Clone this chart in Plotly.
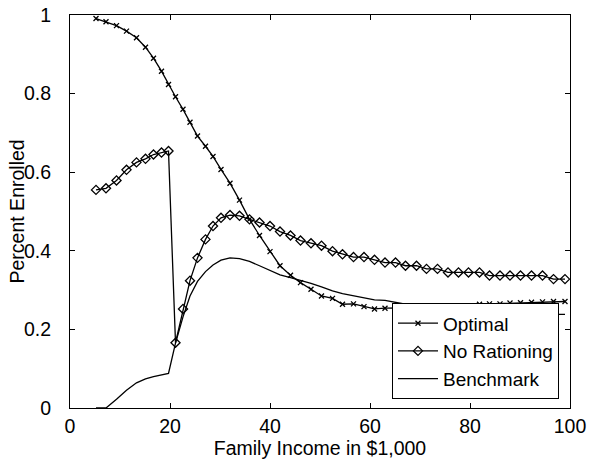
import plotly.graph_objects as go

# Family income grid (in $1,000)
income = [5.2, 7.2, 9.3, 11.3, 13.3, 15.1, 16.7, 18.3, 19.7,
          21.1, 22.6, 24.0, 25.5, 27.1, 28.6, 30.2, 32.0, 33.9,
          35.9, 37.9, 40.0, 42.0, 44.1, 46.1,
          48.2, 50.3, 52.5, 54.5, 56.7, 58.8, 60.9, 63.0, 65.1, 67.1,
          69.3, 71.3, 73.5, 75.6, 77.7, 79.7, 81.9, 83.9, 86.0, 88.0,
          90.1, 92.3, 94.5, 96.7, 99.0]

optimal = [0.991, 0.983, 0.973, 0.959, 0.942, 0.918, 0.890, 0.857, 0.823,
           0.792, 0.760, 0.727, 0.692, 0.666, 0.640, 0.607, 0.572, 0.529,
           0.480, 0.439, 0.398, 0.362, 0.338, 0.319,
           0.302, 0.285, 0.279, 0.264, 0.265, 0.258, 0.252, 0.254, 0.254, 0.255,
           0.248, 0.249, 0.251, 0.251, 0.251, 0.251, 0.264, 0.265, 0.265, 0.267,
           0.268, 0.269, 0.270, 0.271, 0.271]

no_rationing = [0.555, 0.559, 0.579, 0.606, 0.625, 0.634, 0.645, 0.650, 0.654,
                0.166, 0.252, 0.324, 0.382, 0.429, 0.463, 0.484, 0.491, 0.489,
                0.480, 0.472, 0.463, 0.449, 0.439, 0.426,
                0.419, 0.413, 0.399, 0.391, 0.384, 0.384, 0.377, 0.370, 0.370, 0.362,
                0.362, 0.354, 0.354, 0.345, 0.345, 0.345, 0.345, 0.337, 0.337, 0.337,
                0.337, 0.337, 0.337, 0.328, 0.328]

benchmark = [0.0, 0.0, 0.022, 0.045, 0.064, 0.074, 0.080, 0.085, 0.088,
             0.165, 0.232, 0.285, 0.322, 0.347, 0.364, 0.376, 0.382, 0.380,
             0.373, 0.362, 0.350, 0.339, 0.332, 0.325,
             0.317, 0.308, 0.298, 0.291, 0.285, 0.280, 0.275, 0.274, 0.268, 0.264,
             0.264, 0.258, 0.258, 0.255, 0.254, 0.254, 0.245, 0.245, 0.245, 0.245,
             0.238, 0.238, 0.238, 0.238, 0.238]

x_ticks = [0, 20, 40, 60, 80, 100]
y_ticks = [0, 0.2, 0.4, 0.6, 0.8, 1]
y_tick_labels = ["0", "0.2", "0.4", "0.6", "0.8", "1"]

FONT = "Liberation Sans, Arial, Helvetica, sans-serif"
FS = 19.5

fig = go.Figure()
fig.add_trace(go.Scatter(
    x=income, y=optimal, name="Optimal", mode="lines+markers",
    line=dict(color="black", width=1.3),
    marker=dict(symbol="x-thin-open", size=5, color="black",
                line=dict(color="black", width=1.3)),
))
fig.add_trace(go.Scatter(
    x=income, y=no_rationing, name="No Rationing", mode="lines+markers",
    line=dict(color="black", width=1.3),
    marker=dict(symbol="diamond-open", size=7, color="black",
                line=dict(color="black", width=1.3)),
))
fig.add_trace(go.Scatter(
    x=income, y=benchmark, name="Benchmark", mode="lines",
    line=dict(color="black", width=1.3),
))

axis_common = dict(
    showgrid=False, zeroline=False, showline=True, linecolor="black",
    linewidth=1, mirror="ticks", ticks="inside", ticklen=5,
    tickcolor="black", tickwidth=1, automargin=False,
    tickfont=dict(family=FONT, size=FS, color="black"),
)

fig.update_xaxes(range=[0, 100], tickvals=x_ticks, ticklabelstandoff=1,
                 title=dict(text="Family Income in $1,000", standoff=2,
                            font=dict(family=FONT, size=FS, color="black")),
                 **axis_common)
fig.update_yaxes(range=[0, 1], tickvals=y_ticks, ticktext=y_tick_labels,
                 ticklabelstandoff=14, **axis_common)

# y-axis title placed just left of the tick labels
fig.add_annotation(
    text="Percent Enrolled", textangle=-90, showarrow=False,
    xref="paper", yref="paper", x=-0.108, y=0.5,
    xanchor="center", yanchor="middle",
    font=dict(family=FONT, size=FS, color="black"),
)

fig.update_layout(
    width=589, height=464,
    margin=dict(l=70, r=19, t=15, b=56, autoexpand=False),
    paper_bgcolor="white", plot_bgcolor="white",
    font=dict(family=FONT, size=FS, color="black"),
    legend=dict(
        x=0.978, y=0.022, xanchor="right", yanchor="bottom",
        bgcolor="white", bordercolor="black", borderwidth=1,
        font=dict(family=FONT, size=19, color="black"),
        tracegroupgap=0, itemwidth=40,
    ),
    showlegend=True,
)

fig.write_html("out.html")
